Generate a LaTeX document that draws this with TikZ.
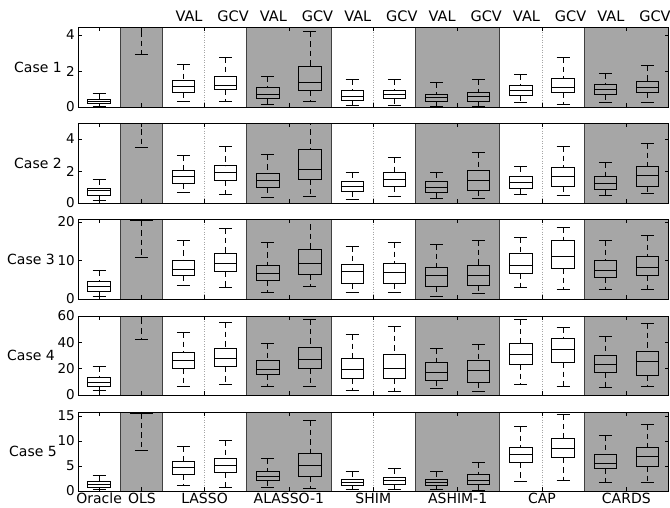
\documentclass[tikz,border=0pt]{standalone}
\usepackage{fontspec}
\setmainfont{DejaVu Sans}
\begin{document}
\begin{tikzpicture}[x=1pt,y=-1pt,
  bline/.style={black,line width=0.9pt},
  whisk/.style={black,line width=0.9pt,dash pattern=on 5.5pt off 4pt},
  sep/.style={black!75,line width=0.9pt},
  mid/.style={black!35,line width=0.6pt,dash pattern=on 1pt off 1.5pt},
  frame/.style={black,line width=0.9pt},
  tick/.style={black,line width=0.7pt},
  lab/.style={font=\fontsize{14.5}{16}\selectfont,inner sep=0pt},
  botlab/.style={font=\fontsize{14}{16}\selectfont,inner sep=0pt,anchor=base},
  caselab/.style={font=\fontsize{14}{16}\selectfont,inner sep=0pt,anchor=east},
  ticklab/.style={font=\fontsize{13.5}{15}\selectfont,inner sep=0pt,anchor=east}]
\definecolor{bandgray}{RGB}{166,166,166}
\useasboundingbox (0,0) rectangle (670,507);
\newcommand{\boxplt}[6]{%
  \pgfmathsetmacro{\xc}{78+42.18*(#1+0.5)}%
  \draw[whisk] (\xc,#2) -- (\xc,#3) (\xc,#5) -- (\xc,#6);
  \draw[bline] (\xc-6.5,#2) -- (\xc+6.5,#2) (\xc-6.5,#6) -- (\xc+6.5,#6);
  \draw[bline] (\xc-11.2,#3) rectangle (\xc+11.2,#5);
  \draw[bline] (\xc-11.2,#4) -- (\xc+11.2,#4);
}
\newcommand{\panelbg}[2]{%
  \fill[bandgray] (120.18,#1) rectangle (162.36,#2);
  \fill[bandgray] (246.72,#1) rectangle (331.08,#2);
  \fill[bandgray] (415.44,#1) rectangle (499.80,#2);
  \fill[bandgray] (584.16,#1) rectangle (668.52,#2);
  \foreach \b in {120.18,162.36,246.72,331.08,415.44,499.80,584.16}
    \draw[sep] (\b,#1) -- (\b,#2);
  \foreach \b in {204.54,288.90,373.26,457.62,541.98,626.34}
    \draw[mid] (\b,#1) -- (\b,#2);
}
\newcommand{\panelfr}[2]{%
  \foreach \b in {99.09,141.27,204.54,288.90,373.26,457.62,541.98,626.34}
    \draw[tick] (\b,#1) -- (\b,#1+4) (\b,#2) -- (\b,#2-4);
  \draw[frame] (78,#1) rectangle (668.52,#2);
}
\newcommand{\ytick}[2]{%
  \draw[tick] (78,#1) -- (82,#1) (668.52,#1) -- (664.52,#1);
  \node[ticklab] at (75,#1) {#2};
}

% ---------- Panel 1 ----------
\panelbg{27}{107}
\begin{scope}
\clip (78,27) rectangle (668.52,107);
\boxplt{0}{93.3}{99.3}{101.5}{103.8}{106}
\boxplt{1}{0}{5}{8}{12}{54.3}
\boxplt{2}{64}{80.3}{86.7}{92}{101.3}
\boxplt{3}{57.3}{76.3}{85.3}{89.7}{101.7}
\boxplt{4}{76.3}{87.7}{94.3}{98.3}{104.3}
\boxplt{5}{31.7}{66.7}{82}{90.7}{101.7}
\boxplt{6}{79.7}{90.7}{96}{100}{105}
\boxplt{7}{79.3}{90}{94.7}{98.7}{105}
\boxplt{8}{82.7}{94}{97.3}{101.3}{106}
\boxplt{9}{79.7}{92.3}{96.7}{101.3}{106.7}
\boxplt{10}{74}{85.3}{90}{95}{102.3}
\boxplt{11}{57.3}{78}{87.3}{92.3}{104.3}
\boxplt{12}{73}{84.3}{89.3}{94.3}{102.7}
\boxplt{13}{65.7}{81.3}{87.3}{92.7}{102}
\end{scope}
\panelfr{27}{107}
\ytick{107}{0}\ytick{71}{2}\ytick{35}{4}
\node[caselab] (c1) at (62,67) {Case 1};

% ---------- Panel 2 ----------
\panelbg{123}{203}
\begin{scope}
\clip (78,123) rectangle (668.52,203);
\boxplt{0}{179.3}{188.3}{190.7}{195.3}{200.7}
\boxplt{1}{90}{100}{105}{110}{147.3}
\boxplt{2}{155.3}{170.7}{176}{183}{192.3}
\boxplt{3}{146.7}{165.7}{172.3}{180.7}{194.3}
\boxplt{4}{154.7}{173.3}{180}{187.3}{197.3}
\boxplt{5}{110}{149.3}{169}{179.3}{196.7}
\boxplt{6}{172}{181}{186}{191}{199}
\boxplt{7}{157}{172}{179}{186}{196}
\boxplt{8}{172}{181}{187}{192}{198}
\boxplt{9}{152}{170}{180}{190}{198}
\boxplt{10}{166}{176}{182}{188}{194}
\boxplt{11}{146}{167}{176}{186}{195}
\boxplt{12}{162}{176}{183}{189}{195}
\boxplt{13}{143}{166}{175}{186}{193}
\end{scope}
\panelfr{123}{203}
\ytick{203}{0}\ytick{171}{2}\ytick{139}{4}
\node[caselab] (c2) at (62,163) {Case 2};

% ---------- Panel 3 ----------
\panelbg{219}{299}
\begin{scope}
\clip (78,219) rectangle (668.52,299);
\boxplt{0}{270.7}{281.7}{286}{291}{296.7}
\boxplt{1}{150}{170}{190}{220.7}{257}
\boxplt{2}{240.7}{260.3}{269}{275.3}{285}
\boxplt{3}{228.3}{253.3}{263.3}{271.7}{287.7}
\boxplt{4}{242.7}{265.7}{273.3}{280.7}{292.7}
\boxplt{5}{205}{249}{263.3}{274.3}{286.7}
\boxplt{6}{246}{264}{271}{283}{292}
\boxplt{7}{242}{263}{272}{283}{292}
\boxplt{8}{244}{267}{275}{286}{296}
\boxplt{9}{240}{265}{275}{285}{293}
\boxplt{10}{237}{253}{265}{273}{287}
\boxplt{11}{227}{240}{256}{268}{289}
\boxplt{12}{240}{260}{270}{277}{289}
\boxplt{13}{235}{256}{267}{275}{289}
\end{scope}
\panelfr{219}{299}
\ytick{299}{0}\ytick{260.5}{10}\ytick{222}{20}
\node[caselab] (c3) at (55,259) {Case 3};

% ---------- Panel 4 ----------
\panelbg{316}{395}
\begin{scope}
\clip (78,316) rectangle (668.52,395);
\boxplt{0}{366}{377.7}{382}{386}{390.3}
\boxplt{1}{250}{270}{280}{290}{339}
\boxplt{2}{332}{352}{360}{368}{386}
\boxplt{3}{322}{348.3}{358.3}{366.7}{384.7}
\boxplt{4}{343.3}{360.7}{369.3}{374}{386.3}
\boxplt{5}{319}{347.3}{359.3}{368.3}{386}
\boxplt{6}{334}{358}{369}{378}{390}
\boxplt{7}{326}{354}{368}{378}{391}
\boxplt{8}{348}{362}{372}{380}{388}
\boxplt{9}{344}{360}{370}{382}{391}
\boxplt{10}{319}{343}{354}{364}{384}
\boxplt{11}{327}{338}{349}{362}{386}
\boxplt{12}{336}{355}{364}{372}{387}
\boxplt{13}{323}{351}{361}{375}{386}
\end{scope}
\panelfr{316}{395}
\ytick{395}{0}\ytick{368.7}{20}\ytick{342.3}{40}\ytick{316}{60}
\node[caselab] (c4) at (55,355.5) {Case 4};

% ---------- Panel 5 ----------
\panelbg{412}{491}
\begin{scope}
\clip (78,412) rectangle (668.52,491);
\boxplt{0}{475.3}{481.7}{484}{487.3}{489.3}
\boxplt{1}{350}{370}{390}{413.3}{450.7}
\boxplt{2}{446.7}{461.7}{467.3}{474}{485.7}
\boxplt{3}{440}{458.3}{465.7}{472.7}{487.7}
\boxplt{4}{458.7}{471.7}{476.7}{480.7}{487.3}
\boxplt{5}{420}{453.3}{465.7}{476.3}{488.3}
\boxplt{6}{471}{479.3}{482.3}{485.3}{489.3}
\boxplt{7}{468.7}{477.3}{480.7}{484}{489.7}
\boxplt{8}{471}{479.3}{482}{485.3}{489.3}
\boxplt{9}{462}{474.7}{480}{484.7}{490.3}
\boxplt{10}{426}{447.3}{454.3}{462.7}{481}
\boxplt{11}{414.3}{438.3}{448.3}{457.7}{480.3}
\boxplt{12}{435}{454.3}{463.3}{468.3}{482.3}
\boxplt{13}{424.3}{447.3}{456}{466}{482}
\end{scope}
\panelfr{412}{491}
\ytick{491}{0}\ytick{466}{5}\ytick{441}{10}\ytick{416}{15}
\node[caselab] (c5) at (57,451.5) {Case 5};

% ---------- top labels ----------
\foreach \k/\t/\d in {2/VAL/5.6,3/GCV/7.5,4/VAL/5.6,5/GCV/7.5,6/VAL/5.6,7/GCV/7.5,8/VAL/5.6,9/GCV/7.5,10/VAL/5.6,11/GCV/7.5,12/VAL/5.6,13/GCV/7.5}{
  \pgfmathsetmacro{\xt}{78+42.18*(\k+0.5)+\d}
  \node[lab,anchor=base] (top\k) at (\xt,21.7) {\t};
}
% ---------- bottom labels ----------
\node[botlab] (bOracle) at (99.09,503) {Oracle};
\node[botlab] (bOLS) at (142,503) {OLS};
\node[botlab] (bLASSO) at (204.54,503) {LASSO};
\node[botlab] (bALASSO) at (288.90,503) {ALASSO-1};
\node[botlab] (bSHIM) at (373.26,503) {SHIM};
\node[botlab] (bASHIM) at (457.62,503) {ASHIM-1};
\node[botlab] (bCAP) at (541.98,503) {CAP};
\node[botlab] (bCARDS) at (626.34,503) {CARDS};
\end{tikzpicture}
\end{document}
